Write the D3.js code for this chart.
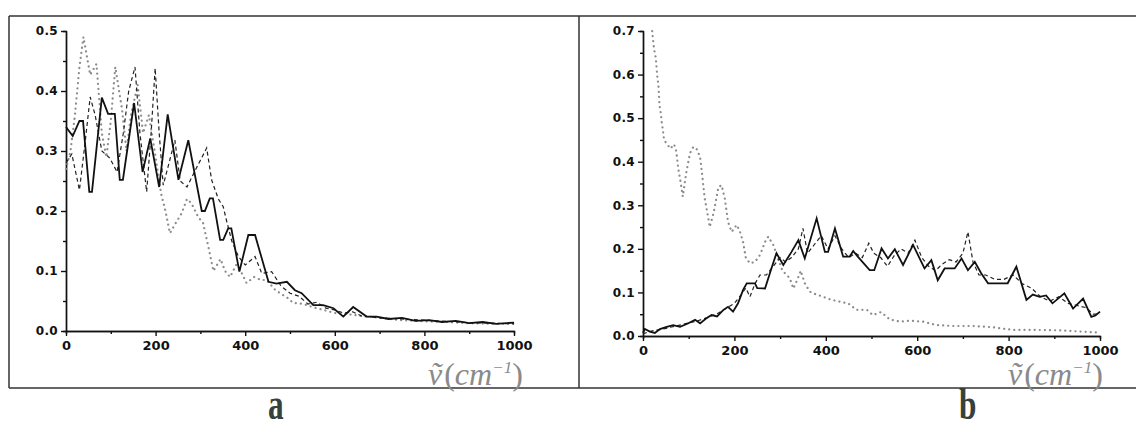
<!DOCTYPE html>
<html>
<head>
<meta charset="utf-8">
<script src="https://cdn.jsdelivr.net/npm/d3@7"></script>
<style>
  body { margin: 0; background: #fff; }
  svg { display: block; }
  .tick text { font-family: "DejaVu Sans", Arial, sans-serif; font-weight: bold; fill: #111; }
  .yaxis .tick text { font-size: 12px; letter-spacing: 0.3px; }
  .xaxis .tick text { font-size: 13px; }
  .axis path, .axis line { stroke: #111; stroke-width: 1.4; }
  .unit { font-family: "Liberation Serif", "DejaVu Serif", serif; font-style: italic; fill: #8a8a8a; }
  .panelName { font-family: "Liberation Serif", "DejaVu Serif", serif; font-weight: bold; fill: #35413b; }
</style>
</head>
<body>
<div id="chart"></div>
<script>
// Panel a series, [wavenumber, value]
let aSolid = [[0,0.34],[15,0.325],[30,0.35],[38,0.35],[52,0.232],[58,0.232],[80,0.389],[94,0.362],[109,0.362],
  [120,0.252],[127,0.252],[152,0.38],[171,0.265],[188,0.321],[208,0.24],[227,0.361],[251,0.252],[273,0.318],
  [303,0.2],[310,0.2],[321,0.221],[328,0.221],[344,0.152],[351,0.152],[362,0.171],[369,0.171],[387,0.099],
  [407,0.16],[422,0.16],[452,0.082],[470,0.079],[493,0.082],[511,0.068],[526,0.063],[552,0.043],[574,0.043],
  [597,0.038],[619,0.024],[641,0.04],[671,0.024],[693,0.024],[720,0.02],[750,0.022],[780,0.017],[810,0.018],
  [840,0.015],[870,0.017],[900,0.013],[930,0.015],[960,0.012],[1000,0.014]]
let aDashed = [[0,0.28],[13,0.295],[30,0.235],[42,0.31],[54,0.39],[65,0.36],[80,0.30],[98,0.288],[114,0.265],
  [128,0.33],[140,0.40],[154,0.44],[165,0.33],[180,0.232],[190,0.33],[199,0.438],[208,0.33],[217,0.243],
  [230,0.28],[243,0.318],[255,0.25],[270,0.24],[290,0.27],[314,0.305],[325,0.252],[340,0.22],[351,0.207],
  [358,0.185],[370,0.15],[385,0.124],[400,0.11],[422,0.124],[437,0.096],[459,0.099],[480,0.075],[500,0.063],
  [520,0.058],[540,0.045],[560,0.048],[580,0.038],[600,0.035],[620,0.03],[640,0.032],[660,0.025],[700,0.022],
  [750,0.02],[800,0.018],[850,0.016],[900,0.014],[950,0.013],[1000,0.012]]
let aDotted = [[0,0.27],[10,0.30],[20,0.36],[30,0.44],[39,0.49],[54,0.427],[68,0.445],[80,0.33],[90,0.29],
  [100,0.35],[110,0.44],[125,0.37],[135,0.30],[145,0.36],[160,0.41],[172,0.33],[185,0.36],[200,0.29],
  [212,0.23],[222,0.20],[232,0.163],[245,0.18],[258,0.196],[270,0.22],[280,0.213],[295,0.19],[306,0.18],
  [318,0.14],[329,0.10],[345,0.12],[355,0.10],[366,0.09],[380,0.11],[390,0.10],[403,0.08],[420,0.09],
  [435,0.085],[448,0.085],[465,0.07],[478,0.063],[495,0.055],[507,0.047],[530,0.045],[550,0.04],[575,0.035],
  [600,0.03],[630,0.028],[660,0.025],[700,0.022],[750,0.018],[800,0.016],[850,0.015],[900,0.013],[950,0.012],
  [1000,0.012]]

// Panel b series
let bSolid = [[0,0.007],[4,0.016],[15,0.01],[26,0.007],[37,0.016],[52,0.021],[66,0.025],[81,0.021],[97,0.028],
  [114,0.037],[125,0.029],[138,0.04],[150,0.048],[162,0.045],[176,0.06],[186,0.067],[197,0.056],[208,0.075],
  [219,0.106],[227,0.121],[245,0.121],[250,0.11],[267,0.109],[281,0.155],[292,0.19],[307,0.163],[325,0.193],
  [340,0.22],[354,0.178],[380,0.27],[398,0.193],[405,0.193],[420,0.247],[438,0.182],[452,0.182],[460,0.195],
  [470,0.182],[496,0.151],[506,0.151],[522,0.201],[536,0.178],[551,0.199],[569,0.163],[591,0.209],[616,0.155],
  [631,0.174],[645,0.128],[660,0.155],[682,0.155],[697,0.178],[711,0.151],[726,0.17],[740,0.144],[755,0.121],
  [798,0.121],[817,0.159],[839,0.083],[853,0.095],[868,0.09],[882,0.093],[896,0.075],[922,0.098],[941,0.063],
  [963,0.086],[981,0.044],[990,0.047],[1000,0.056]]
let bDashed = [[0,0.005],[20,0.012],[40,0.015],[60,0.02],[80,0.025],[100,0.03],[120,0.035],[140,0.042],
  [160,0.05],[180,0.062],[200,0.075],[215,0.095],[225,0.11],[234,0.09],[245,0.12],[256,0.14],[270,0.14],
  [285,0.16],[300,0.18],[312,0.17],[325,0.18],[340,0.2],[350,0.247],[360,0.19],[375,0.21],[390,0.23],
  [405,0.2],[420,0.23],[435,0.2],[450,0.18],[465,0.19],[480,0.18],[494,0.213],[505,0.19],[520,0.18],
  [535,0.16],[550,0.185],[565,0.2],[580,0.19],[595,0.22],[610,0.18],[625,0.16],[640,0.15],[655,0.165],
  [670,0.175],[685,0.17],[700,0.19],[711,0.239],[722,0.17],[735,0.14],[750,0.14],[770,0.13],[790,0.13],
  [810,0.14],[830,0.12],[850,0.11],[870,0.09],[890,0.08],[910,0.09],[930,0.075],[950,0.07],[970,0.065],
  [985,0.05],[1000,0.05]]
let bDotted = [[20,0.70],[24,0.66],[28,0.638],[31,0.599],[34,0.572],[36,0.53],[39,0.511],[41,0.49],[44,0.469],
  [46,0.45],[53,0.44],[60,0.43],[68,0.44],[73,0.423],[77,0.385],[81,0.362],[87,0.32],[95,0.377],[103,0.42],
  [110,0.434],[117,0.43],[125,0.411],[129,0.374],[135,0.316],[143,0.27],[146,0.25],[155,0.285],[165,0.342],
  [172,0.346],[179,0.316],[186,0.262],[194,0.239],[205,0.255],[212,0.24],[219,0.216],[225,0.179],[234,0.167],
  [245,0.17],[256,0.186],[267,0.216],[274,0.228],[285,0.209],[295,0.18],[305,0.15],[321,0.133],[329,0.109],
  [338,0.13],[345,0.15],[354,0.121],[365,0.102],[372,0.098],[394,0.09],[412,0.083],[430,0.079],[449,0.075],
  [467,0.06],[490,0.06],[503,0.048],[521,0.055],[540,0.038],[562,0.033],[584,0.035],[613,0.033],[642,0.025],
  [678,0.023],[722,0.023],[766,0.02],[809,0.014],[852,0.014],[911,0.013],[962,0.01],[997,0.008]]

// Tick values
let xTicks = [0, 200, 400, 600, 800, 1000]
let xMinor = [100, 300, 500, 700, 900]
let aYTicks = [0, 0.1, 0.2, 0.3, 0.4, 0.5]
let bYTicks = [0, 0.1, 0.2, 0.3, 0.4, 0.5, 0.6, 0.7]

const width = 1136, height = 429

const svg = d3.select("#chart").append("svg")
  .attr("width", width)
  .attr("height", height)

// Outer frame and divider
const frame = svg.append("g").attr("stroke", "#333").attr("stroke-width", 1.5)
frame.append("line").attr("x1", 9).attr("x2", width).attr("y1", 16).attr("y2", 16)
frame.append("line").attr("x1", 9).attr("x2", width).attr("y1", 388).attr("y2", 388)
frame.append("line").attr("x1", 9).attr("x2", 9).attr("y1", 16).attr("y2", 388)
frame.append("line").attr("x1", 579).attr("x2", 579).attr("y1", 16).attr("y2", 388)

/**
 * Draw one panel
 */
function drawPanel(p) {
  const xScale = d3.scaleLinear().domain([0, 1000]).range([p.left, p.right])
  const yScale = d3.scaleLinear().domain([0, p.yMax]).range([p.bottom, p.top])

  const yMinor = d3.range(0.05, p.yMax, 0.1)

  // Minor ticks
  svg.append("g").attr("class", "axis")
    .attr("transform", "translate(0," + p.bottom + ")")
    .call(d3.axisBottom(xScale).tickValues(xMinor).tickSize(3).tickFormat(""))
  svg.append("g").attr("class", "axis")
    .attr("transform", "translate(" + p.left + ",0)")
    .call(d3.axisLeft(yScale).tickValues(yMinor).tickSize(3).tickFormat(""))

  // Major axes
  svg.append("g").attr("class", "axis xaxis")
    .attr("transform", "translate(0," + p.bottom + ")")
    .call(d3.axisBottom(xScale).tickValues(xTicks).tickSize(5).tickSizeOuter(0).tickPadding(5).tickFormat(d3.format("d")))
  svg.append("g").attr("class", "axis yaxis")
    .attr("transform", "translate(" + p.left + ",0)")
    .call(d3.axisLeft(yScale).tickValues(p.yTicks).tickSize(5).tickSizeOuter(0).tickPadding(3).tickFormat(d3.format(".1f")))

  const line = d3.line().x(d => xScale(d[0])).y(d => yScale(d[1]))

  svg.append("path").datum(p.dotted)
    .attr("fill", "none").attr("stroke", "#8c8c8c").attr("stroke-width", 2.2)
    .attr("stroke-linecap", "round").attr("stroke-dasharray", "0.1,5")
    .attr("d", line)
  svg.append("path").datum(p.dashed)
    .attr("fill", "none").attr("stroke", "#222").attr("stroke-width", 1.2)
    .attr("stroke-dasharray", "4,3")
    .attr("d", line)
  svg.append("path").datum(p.solid)
    .attr("fill", "none").attr("stroke", "#111").attr("stroke-width", 1.8)
    .attr("d", line)

  // Unit label
  const unit = svg.append("text").attr("class", "unit")
    .attr("x", p.unitX).attr("y", 385).attr("font-size", 32)
  unit.append("tspan").text("ṽ")
  unit.append("tspan").attr("font-style", "normal").attr("dx", 2).text("(")
  unit.append("tspan").text("cm")
  unit.append("tspan").attr("font-size", 17).attr("dy", -12).text("−1")
  unit.append("tspan").attr("font-style", "normal").attr("dy", 12).text(")")

  // Panel letter
  svg.append("text").attr("class", "panelName")
    .attr("transform", "translate(" + p.nameX + ",419) scale(0.92,1.3)")
    .attr("font-size", 34)
    .text(p.name)
}

drawPanel({ left: 66, right: 514, top: 31, bottom: 331, yMax: 0.5, yTicks: aYTicks,
  solid: aSolid, dashed: aDashed, dotted: aDotted, unitX: 428, nameX: 268, name: "a" })
drawPanel({ left: 643, right: 1100, top: 31, bottom: 336, yMax: 0.7, yTicks: bYTicks,
  solid: bSolid, dashed: bDashed, dotted: bDotted, unitX: 1008, nameX: 959, name: "b" })
</script>
</body>
</html>
